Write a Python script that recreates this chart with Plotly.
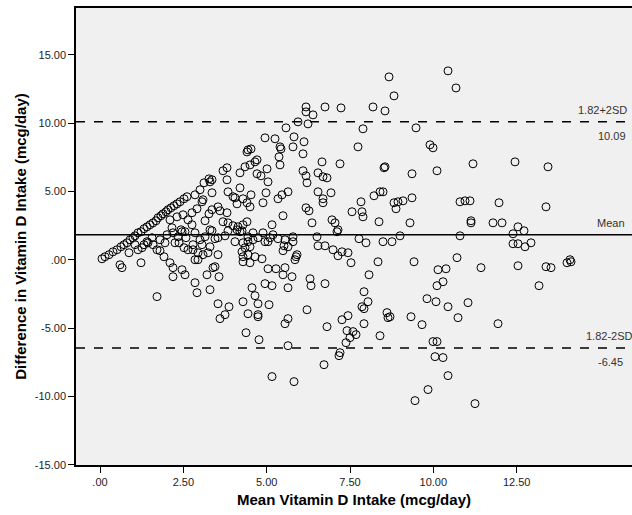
import plotly.graph_objects as go

# Mean of the two methods (x) and their difference (y)
mean_intake = [
    # x < 3.1 (diagonal band and interior)
    0.06, 0.15, 0.27, 0.39, 0.51, 0.63, 0.72, 0.81, 0.90, 0.99, 1.05, 1.14, 1.23, 1.32, 1.41,
    1.50, 1.59, 1.68, 1.74, 1.83, 1.89, 1.98, 2.04, 2.13, 2.22, 2.31, 2.40, 2.52, 2.61, 2.76,
    2.85, 2.91, 3.06, 3.12, 3.00, 3.09,
    0.60, 0.66, 0.87, 1.05, 1.14, 1.26, 1.23, 1.32, 1.44, 1.59, 1.71, 1.80, 1.92, 2.10, 1.95,
    2.01, 2.19, 2.16, 2.34, 2.46, 2.55, 2.37, 2.52, 2.64, 2.79, 2.94, 3.09, 2.85, 2.94, 2.19,
    2.46, 2.55, 2.19, 2.85, 2.91, 1.71, 2.79, 3.00, 3.06, 2.85, 2.76, 2.64, 2.49, 2.10, 2.31,
    2.43, 2.58, 1.56, 1.80, 2.25, 1.41,
    # 3.1 <= x < 6.6, above zero
    5.58, 5.94, 6.18, 6.18, 6.39, 6.24, 4.95, 5.25, 5.82, 6.12, 4.44, 4.41, 4.53, 5.40, 5.43,
    5.37, 5.40, 5.79, 6.09, 6.54, 6.09, 6.18, 6.21, 4.71, 4.65, 4.50, 4.35, 4.20, 4.71, 4.83,
    5.01, 5.04, 3.69, 3.81, 3.81, 3.84, 3.36, 3.30, 3.36, 4.20, 4.53, 4.05, 4.29, 4.41, 4.98,
    4.89, 5.34, 5.46, 5.64, 6.54, 6.18, 6.27, 5.49, 6.36, 3.54, 3.36, 3.60, 3.81, 3.27, 3.15,
    3.69, 3.84, 3.99, 4.14, 4.29, 4.41, 4.11, 4.20, 5.16, 4.89, 3.30, 3.15, 3.45, 3.75, 4.05,
    4.44, 4.59, 4.74, 4.95, 5.10, 5.19, 5.34, 5.55, 5.79, 5.79, 5.52, 5.64, 5.49, 5.91, 6.51,
    6.54, 4.29, 4.35, 4.50, 4.26, 4.44, 4.65, 3.30, 3.24, 3.54, 4.11, 4.50, 3.99, 4.59, 4.26,
    3.84, 3.54, 4.44, 5.04, 3.36, 4.86, 3.27,
    # 3.1 <= x < 6.6, below zero
    3.21, 3.39, 3.45, 3.57, 3.30, 3.54, 3.87, 3.60, 3.75, 4.29, 4.50, 5.04, 5.28, 5.55, 5.49,
    5.76, 4.95, 5.16, 4.56, 4.65, 4.29, 4.74, 5.07, 4.44, 4.74, 4.74, 4.38, 4.77, 5.64, 5.55,
    5.64, 6.21, 6.30, 6.33, 5.85, 5.88, 5.64, 5.16, 5.82, 4.29,
    # x >= 6.6
    6.75, 7.23, 8.19, 8.55, 8.82, 8.67, 7.89, 9.48, 7.74, 9.90, 9.99, 6.66, 7.20, 8.52, 8.55,
    9.36, 10.11, 6.69, 6.81, 6.93, 6.69, 6.69, 7.83, 7.56, 7.86, 7.89, 8.22, 8.40, 8.49, 8.82,
    8.94, 9.09, 8.88, 9.36, 6.96, 7.05, 7.11, 7.14, 8.37, 9.30, 7.77, 7.98, 8.49, 8.76, 9.00,
    6.75, 6.99, 7.14, 7.26, 7.44, 7.53, 8.34, 9.42, 10.14, 10.11, 6.75, 8.07, 7.92, 8.04, 7.86,
    7.92, 8.61, 8.64, 8.70, 9.33, 9.66, 9.81, 10.08, 7.26, 7.44, 6.81, 7.92, 8.40, 7.41, 7.59,
    7.68, 7.50, 7.38, 7.20, 7.17, 6.72, 9.99, 10.11, 10.05, 9.84, 9.45, 10.29, 10.44, 11.25,
    10.44, 10.68, 11.19, 12.45, 13.44, 10.80, 10.95, 11.10, 11.97, 13.38, 11.13, 11.13, 11.79,
    12.06, 12.54, 12.72, 12.39, 10.80, 12.39, 12.54, 12.75, 12.93, 10.71, 14.10, 11.43, 12.54,
    13.38, 13.53, 14.01, 14.13, 10.38, 10.29, 13.17, 10.44, 11.04, 10.74, 11.94,
]

diff_intake = [
    0.07, 0.22, 0.37, 0.58, 0.73, 0.95, 1.10, 1.24, 1.46, 1.61, 1.75, 1.97, 2.05, 2.27, 2.41,
    2.56, 2.70, 2.85, 3.07, 3.22, 3.36, 3.51, 3.66, 3.80, 3.95, 4.09, 4.24, 4.46, 4.61, 3.44,
    4.75, 3.73, 4.24, 5.63, 5.12, 4.39,
    -0.37, -0.58, 0.51, 1.10, 0.73, 0.88, -0.22, 1.10, 1.24, 1.10, 0.73, 0.66, 0.22, -0.22, 1.24,
    1.83, 1.97, 2.34, 1.68, 2.05, 2.05, 1.24, 0.88, 0.73, 0.73, 0.51, 0.37, 0.00, 0.00, -0.58,
    -0.73, -1.10, -1.24, -1.68, -2.41, -2.70, 1.10, 1.46, 1.10, 1.97, 2.56, 2.92, 3.29, 2.92, 3.14,
    2.19, 1.61, 1.61, 1.46, 1.24, 1.32,
    9.65, 10.09, 11.18, 10.82, 10.60, 9.94, 8.92, 8.85, 8.99, 8.63, 8.04, 7.89, 8.11, 8.26, 8.11,
    7.53, 6.94, 8.26, 7.75, 6.36, 6.51, 6.14, 5.63, 7.31, 7.16, 6.94, 6.80, 6.36, 6.29, 6.14,
    6.65, 5.70, 6.51, 6.73, 5.85, 4.97, 5.85, 5.70, 4.90, 5.26, 4.75, 4.53, 4.46, 4.17, 4.90,
    4.17, 4.46, 4.75, 4.97, 4.97, 3.80, 3.58, 3.22, 2.70, 3.87, 3.66, 3.58, 3.44, 3.36, 2.85,
    2.78, 2.70, 2.49, 2.41, 2.56, 2.78, 2.19, 2.05, 2.56, 1.97, 2.19, 1.68, 1.54, 1.75, 1.32,
    1.68, 1.46, 1.61, 1.32, 1.61, 1.83, 1.54, 1.46, 1.68, 1.32, 1.02, 0.95, 0.66, 0.37, 1.68,
    1.02, 1.24, 0.88, 0.95, 0.58, 0.37, 0.22, 0.95, 0.51, 0.37, 4.09, 3.87, 4.61, 1.97, 2.12,
    2.12, 1.61, 1.32, 1.32, 2.12, 0.07, 5.92,
    -1.10, -0.58, -0.51, -1.24, -2.19, -3.22, -3.44, -4.31, -4.02, -0.15, -0.22, -0.66, -0.66, -0.58, -1.10,
    -1.24, -1.75, -1.90, -2.05, -2.63, -3.07, -3.22, -3.29, -3.95, -4.02, -4.17, -5.34, -5.85, -2.05, -4.68,
    -4.31, -3.66, -1.39, -1.90, 0.00, 0.22, -6.29, -8.55, -8.92, 0.22,
    11.18, 11.11, 11.18, 10.89, 11.99, 13.38, 9.58, 9.65, 8.26, 8.41, 8.19, 7.16, 7.02, 6.73, 6.80,
    6.29, 6.51, 6.07, 5.99, 4.90, 4.46, 4.17, 4.24, 3.51, 3.51, 3.14, 4.68, 4.97, 4.97, 4.17,
    4.24, 4.31, 3.73, 4.53, 2.92, 2.70, 2.05, 2.19, 2.78, 2.70, 1.54, 1.24, 1.32, 1.32, 1.75,
    1.02, 0.73, 0.29, 0.58, 0.51, -0.22, -0.15, -0.15, -0.73, -1.90, -1.75, -1.10, -2.34, -3.07, -3.44,
    -3.58, -3.87, -4.24, -4.17, -4.17, -4.75, -2.85, -3.07, -4.39, -4.09, -4.90, -4.68, -5.56, -5.19, -5.26,
    -5.48, -5.70, -6.07, -6.80, -7.02, -7.68, -5.99, -5.99, -7.09, -9.50, -10.31, -7.16, -8.48, -10.53,
    13.82, 12.57, 7.02, 7.16, 6.80, 4.24, 4.31, 4.31, 4.17, 3.87, 2.70, 2.85, 2.70,
    2.70, 2.41, 2.12, 1.90, 1.75, 1.17, 1.17, 0.95, 1.24, 0.15, 0.00, -0.58, -0.44,
    -0.51, -0.58, -0.22, -0.15, -0.66, -1.61, -1.90, -3.44, -3.14, -4.24, -4.68,
]

mean_diff = 1.82
upper_loa = 10.09
lower_loa = -6.45

y_ticks = [15, 10, 5, 0, -5, -10, -15]
y_tick_text = ["15.00", "10.00", "5.00", ".00", "-5.00", "-10.00", "-15.00"]
x_ticks = [0, 2.5, 5, 7.5, 10, 12.5]
x_tick_text = [".00", "2.50", "5.00", "7.50", "10.00", "12.50"]

FONT = "Liberation Sans, Arial, sans-serif"

fig = go.Figure()
fig.add_trace(go.Scatter(
    x=mean_intake, y=diff_intake, mode="markers",
    marker=dict(symbol="circle-open", size=8, color="black", line=dict(width=1, color="black")),
    showlegend=False, hoverinfo="x+y",
))

fig.add_hline(y=mean_diff, line=dict(color="black", width=1.5))
fig.add_hline(y=upper_loa, line=dict(color="black", width=1.5, dash="dash"))
fig.add_hline(y=lower_loa, line=dict(color="black", width=1.5, dash="dash"))

label_font = dict(family=FONT, size=11, color="#333333")
# (text, y value, anchor, vertical shift in px, horizontal shift in px)
labels = [
    ("1.82+2SD", upper_loa, "bottom", 4, -3),
    (f"{upper_loa:.2f}", upper_loa, "top", -6, -4),
    ("Mean", mean_diff, "bottom", 4, -5),
    ("1.82-2SD", lower_loa, "bottom", 4, 3),
    (f"{lower_loa:.2f}", lower_loa, "top", -6, -7),
]
for txt, yv, anchor, ys, xs in labels:
    fig.add_annotation(x=1, xref="paper", y=yv, yref="y", text=txt, showarrow=False,
                       xanchor="right", yanchor=anchor, xshift=xs, yshift=ys,
                       font=label_font)

fig.update_layout(
    width=632, height=515,
    margin=dict(l=76, r=0, t=8, b=50),
    paper_bgcolor="white", plot_bgcolor="#F0F0F0",
    font=dict(family=FONT, size=11, color="#222222"),
)
fig.update_xaxes(
    range=[-0.72, 15.96], tickvals=x_ticks, ticktext=x_tick_text,
    showgrid=False, zeroline=False, showline=True, linecolor="black", linewidth=1.5,
    mirror=True, ticks="outside", ticklen=6, tickcolor="black",
    tickfont=dict(family=FONT, size=11, color="#222222"),
    title=dict(text="<b>Mean Vitamin D Intake (mcg/day)</b>", standoff=8,
               font=dict(family=FONT, size=15, color="black")),
)
fig.update_yaxes(
    range=[-15.02, 18.42], tickvals=y_ticks, ticktext=y_tick_text,
    showgrid=False, zeroline=False, showline=True, linecolor="black", linewidth=1.5,
    mirror=False, ticks="outside", ticklen=6, tickcolor="black",
    tickfont=dict(family=FONT, size=11, color="#222222"),
    title=dict(text="<b>Difference in Vitamin D Intake (mcg/day)</b>", standoff=5,
               font=dict(family=FONT, size=15, color="black")),
)

fig.write_html("out.html")
